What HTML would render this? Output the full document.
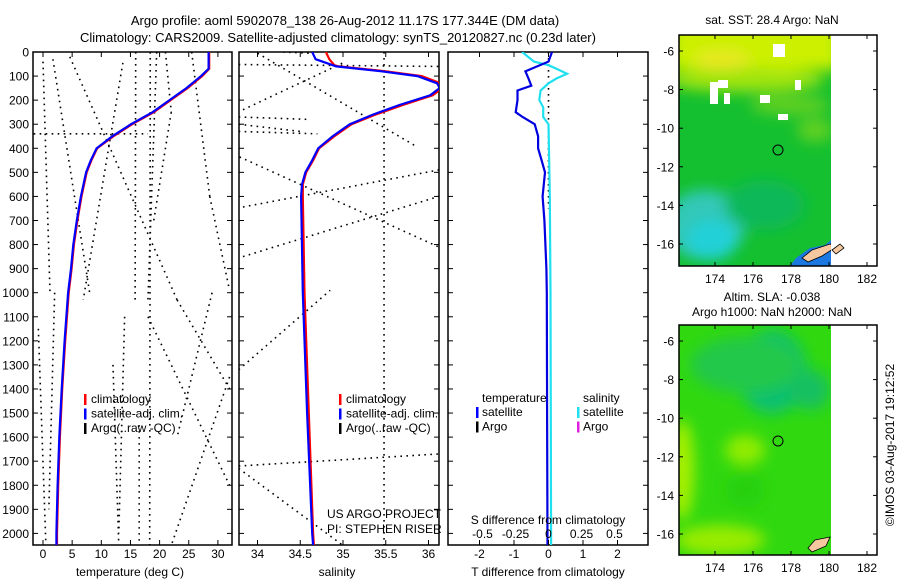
<!DOCTYPE html>
<html><head><meta charset="utf-8">
<style>
html,body{margin:0;padding:0;background:#fff;}
svg{display:block;font-family:"Liberation Sans",sans-serif;font-size:12px;}
.ax{fill:none;stroke:#000;stroke-width:1.5}
.dot{fill:none;stroke:#000;stroke-width:1.6;stroke-dasharray:1.6 4.4}
</style></head>
<body>
<svg id="fig" width="900" height="580" viewBox="0 0 900 580">
<defs>
<clipPath id="c1"><rect x="33" y="52" width="199" height="493"/></clipPath>
<clipPath id="c2"><rect x="239" y="52" width="200" height="493"/></clipPath>
<clipPath id="c3"><rect x="448" y="52" width="200" height="493"/></clipPath>
<clipPath id="m1"><rect x="679" y="35" width="152" height="231"/></clipPath>
<clipPath id="m2"><rect x="679" y="325" width="152" height="230"/></clipPath>
<filter id="bl" x="-50%" y="-50%" width="200%" height="200%"><feGaussianBlur stdDeviation="7"/></filter>
</defs>
<text x="345" y="25" text-anchor="middle" font-size="13">Argo profile: aoml 5902078_138 26-Aug-2012 11.17S 177.344E (DM data)</text>
<text x="338" y="42" text-anchor="middle" font-size="13">Climatology: CARS2009. Satellite-adjusted climatology: synTS_20120827.nc (0.23d later)</text>

<g id="p1"></g>
<g id="p2"></g>
<g id="p3"></g>

<!-- map 1 -->
<g>
<text x="772" y="24" text-anchor="middle">sat. SST: 28.4 Argo: NaN</text>
<g clip-path="url(#m1)">
<rect x="679" y="35" width="152" height="231" fill="#14c030"/>
<g filter="url(#bl)">
<rect x="670" y="20" width="170" height="50" fill="#ccf000"/>
<ellipse cx="745" cy="80" rx="80" ry="12" fill="#a0e410"/>
<ellipse cx="722" cy="60" rx="28" ry="10" fill="#e8e820"/>
<ellipse cx="790" cy="105" rx="40" ry="10" fill="#60d020"/>
<ellipse cx="705" cy="225" rx="40" ry="35" fill="#30c8b8"/>
<ellipse cx="712" cy="240" rx="25" ry="20" fill="#20d0d8"/>
<ellipse cx="765" cy="205" rx="40" ry="25" fill="#10b858"/>
<ellipse cx="815" cy="130" rx="18" ry="12" fill="#60d020"/>
</g>
<rect x="773" y="44" width="12" height="13" fill="#fff"/>
<rect x="710" y="82" width="8" height="22" fill="#fff"/>
<rect x="718" y="80" width="10" height="8" fill="#fff"/>
<rect x="724" y="93" width="6" height="11" fill="#fff"/>
<rect x="760" y="95" width="10" height="8" fill="#fff"/>
<rect x="778" y="114" width="10" height="6" fill="#fff"/>
<rect x="795" y="80" width="6" height="10" fill="#fff"/>
<path d="M796 258 L810 248 L825 245 L831 240 L831 266 L790 266Z" fill="#1a78e0"/>
<path d="M802 258 L812 250 L830 244 L836 247 L822 256 L808 262Z" fill="#f5c8a0" stroke="#000" stroke-width="0.8"/>
</g>
<rect x="831" y="35" width="46" height="231" fill="#fff"/>
<path d="M832 250 L840 244 L844 248 L836 254Z" fill="#f5c8a0" stroke="#000" stroke-width="0.8"/>
<circle cx="778" cy="150" r="5" fill="none" stroke="#000" stroke-width="1"/>
<rect x="679" y="35" width="198" height="231" class="ax" stroke-width="1"/>
<g id="mt1"></g>
</g>

<!-- map 2 -->
<g>
<text x="772" y="301" text-anchor="middle">Altim. SLA: -0.038</text>
<text x="772" y="316" text-anchor="middle">Argo h1000: NaN h2000: NaN</text>
<g clip-path="url(#m2)">
<rect x="679" y="325" width="152" height="230" fill="#30d810"/>
<g filter="url(#bl)">
<ellipse cx="772" cy="372" rx="35" ry="42" fill="#10c070"/>
<ellipse cx="745" cy="365" rx="55" ry="28" fill="#20c848"/>
<ellipse cx="810" cy="390" rx="20" ry="20" fill="#18c060"/>
<ellipse cx="682" cy="470" rx="12" ry="50" fill="#a8f000"/>
<ellipse cx="745" cy="450" rx="20" ry="15" fill="#90ec00"/>
<ellipse cx="720" cy="540" rx="45" ry="15" fill="#98ec00"/>
<ellipse cx="745" cy="490" rx="20" ry="18" fill="#28d010"/>
</g>
<path d="M808 548 L815 540 L830 537 L826 546 L812 552Z" fill="#f5c8a0" stroke="#000" stroke-width="0.8"/>
</g>
<rect x="831" y="325" width="46" height="230" fill="#fff"/>
<circle cx="778" cy="441" r="5" fill="none" stroke="#000" stroke-width="1"/>
<rect x="679" y="325" width="198" height="230" class="ax" stroke-width="1"/>
<g id="mt2"></g>
</g>
<text transform="translate(894,445) rotate(-90)" text-anchor="middle">©IMOS 03-Aug-2017 19:12:52</text>
</svg>
<script>
const NS="http://www.w3.org/2000/svg";
// ---- data ----
const depthTicks=[0,100,200,300,400,500,600,700,800,900,1000,1100,1200,1300,1400,1500,1600,1700,1800,1900,2000];
const tempTicks=[0,5,10,15,20,25,30];
const salTicks=[34,34.5,35,35.5,36];
const salTickLabels=["34","34.5","35","35.5","36"];
const tdiffTicks=[-2,-1,0,1,2];
const sdiffTicks=[-0.5,-0.25,0,0.25,0.5];
const sdiffTickLabels=["-0.5","-0.25","0","0.25","0.5"];
const profDepth=[0,70,100,150,200,250,300,350,400,450,500,600,700,800,900,1000,1200,1400,1600,1800,2000,2050];
const tempClim=[28.5,28.5,27.3,24.8,21.9,19.0,15.3,12.1,9.3,8.3,7.5,6.6,5.9,5.3,4.9,4.4,3.8,3.3,2.9,2.6,2.4,2.4];
const tempSat=[28.4,28.4,27.1,24.6,21.7,18.8,15.1,11.9,9.2,8.2,7.4,6.5,5.8,5.2,4.8,4.3,3.7,3.2,2.8,2.5,2.3,2.3];
const salDepth=[0,30,55,60,80,100,130,150,180,220,260,300,350,400,450,500,550,600,1000,1500,2000,2050];
const salClim=[34.80,34.84,34.90,34.95,35.50,35.92,36.14,36.16,36.05,35.70,35.38,35.10,34.90,34.72,34.65,34.57,34.53,34.53,34.55,34.60,34.65,34.66];
const salSat=[34.64,34.68,34.88,34.92,35.45,35.87,36.10,36.13,36.02,35.66,35.35,35.08,34.88,34.71,34.64,34.56,34.52,34.51,34.53,34.58,34.64,34.65];
const tdDepth=[0,40,60,80,110,140,160,200,250,270,300,350,400,450,500,600,700,900,1000,1500,2050];
const tdSat=[0.1,0,-0.33,-0.67,-0.58,-0.5,-0.9,-0.9,-0.95,-0.75,-0.4,-0.3,-0.3,-0.2,-0.1,-0.17,-0.12,-0.06,-0.05,-0.04,-0.03];
const sdDepth=[0,40,55,70,90,110,130,160,200,230,270,300,600,1000,2050];
const sdSat=[-0.2,-0.11,0,0.06,0.14,0.06,0,-0.06,-0.07,-0.04,-0.04,0,0.01,0.015,0.02];
// Argo raw (bad QC) segments: [value1, depth1, value2, depth2]
const argoTemp=[[0,40,1.2,1000],[1.7,30,8,1000],[4.6,20,23,1030],[23,1030,32,1400],[13.7,45,6.9,1030],[15.9,0,15.8,1030],[18.4,0,18.3,2050],[19.5,0,18,1030],[21,0,22,250],[22,250,19,700],[25.5,0,28.6,600],[28.6,600,32,990],[-1.6,340,18,340],[-0.8,1150,0.5,2050],[18,1100,32,1800],[32,1350,22,2050],[12,1300,13,2050],[16.5,1550,16.5,2050],[14,1100,13,2000],[2,1000,1,1900],[29,1000,23,1600]];
const argoSal=[[33.78,52,36.12,60],[33.83,240,35.0,45],[34.0,5,35.87,395],[33.79,436,36.12,810],[33.83,644,36.12,490],[33.83,850,36.12,600],[33.78,270,34.6,280],[33.78,300,34.5,330],[33.78,330,34.7,340],[35.48,0,35.48,2050],[33.78,1720,36.12,1670],[33.78,1730,35.0,2050],[33.78,1320,34.85,990],[34.3,0,34.6,5]];
// ---- scales ----
const yD=d=>52+d*0.2407;
const xT=t=>43+t*5.83;
const xS=s=>257.5+(s-34)*85.5;
const xTd=v=>548.5+v*34.5;
const xSd=v=>548.5+v*132;
function el(tag,attrs,parent,txt){const e=document.createElementNS(NS,tag);for(const k in attrs)e.setAttribute(k,attrs[k]);if(txt!==undefined)e.textContent=txt;parent.appendChild(e);return e;}
function poly(xs,ds,fx,stroke,w,parent,name){
  const pts=xs.map((v,i)=>fx(v).toFixed(1)+","+yD(ds[i]).toFixed(1)).join(" ");
  const p=el("polyline",{points:pts,fill:"none",stroke:stroke,"stroke-width":w},parent);
  
  
}
function frame(g,x0,w,clip){
  const r=el("rect",{x:x0,y:52,width:w,height:493,class:"ax"},g);
  
  
  const c=el("g",{"clip-path":"url(#"+clip+")"},g);return c;
}
function xticks(g,vals,labels,fx,x0,w,y){
  vals.forEach((v,i)=>{const x=fx(v);
    el("line",{x1:x,x2:x,y1:545,y2:540,stroke:"#000"},g);
    el("line",{x1:x,x2:x,y1:52,y2:57,stroke:"#000"},g);
    const t=el("text",{x:x,y:y,"text-anchor":"middle"},g,labels[i]);
    
    
  });
}
function legend(g,x,items){
  items.forEach((it,i)=>{const y=403+i*14.5;
    el("rect",{x:x,y:y-9,width:2.5,height:11,fill:it[1]},g);
    const t=el("text",{x:x+7,y:y},g,it[0]);
    
    
  });
}
// panel 1
const g1=document.getElementById("p1");
const c1=frame(g1,33,199,"c1");
argoTemp.forEach(s=>{const l=el("line",{x1:xT(s[0]),y1:yD(s[1]),x2:xT(s[2]),y2:yD(s[3]),class:"dot"},c1);
  
  });
poly(tempClim,profDepth,xT,"#f00",2.2,c1,"temp-climatology-line");
poly(tempSat,profDepth,xT,"#00f",2.2,c1,"temp-satellite-line");
depthTicks.forEach(d=>{const y=yD(d);
  el("line",{x1:33,x2:38,y1:y,y2:y,stroke:"#000"},g1);
  el("line",{x1:232,x2:227,y1:y,y2:y,stroke:"#000"},g1);
  const t=el("text",{x:29,y:y+4.5,"text-anchor":"end"},g1,String(d));
  
  });
xticks(g1,tempTicks,tempTicks.map(String),xT,33,199,558);
let t=el("text",{x:130,y:576,"text-anchor":"middle"},g1,"temperature (deg C)");


legend(g1,84,[["climatology","#f00"],["satellite-adj. clim.","#00f"],["Argo(..raw -QC)","#000"]]);
// panel 2
const g2=document.getElementById("p2");
const c2=frame(g2,239,200,"c2");
argoSal.forEach(s=>{const l=el("line",{x1:xS(s[0]),y1:yD(s[1]),x2:xS(s[2]),y2:yD(s[3]),class:"dot"},c2);
  
  });
poly(salClim,salDepth,xS,"#f00",2.2,c2,"sal-climatology-line");
poly(salSat,salDepth,xS,"#00f",2.2,c2,"sal-satellite-line");
depthTicks.forEach(d=>{const y=yD(d);
  el("line",{x1:239,x2:244,y1:y,y2:y,stroke:"#000"},g2);
  el("line",{x1:439,x2:434,y1:y,y2:y,stroke:"#000"},g2);});
xticks(g2,salTicks,salTickLabels,xS,239,200,558);
t=el("text",{x:337,y:576,"text-anchor":"middle"},g2,"salinity");


legend(g2,339,[["climatology","#f00"],["satellite-adj. clim.","#00f"],["Argo(..raw -QC)","#000"]]);
t=el("text",{x:327,y:518},g2,"US ARGO PROJECT");


t=el("text",{x:327,y:533},g2,"PI: STEPHEN RISER");


// panel 3
const g3=document.getElementById("p3");
const c3=frame(g3,448,200,"c3");
el("line",{x1:xTd(0),x2:xTd(0),y1:52,y2:yD(650),class:"dot","stroke-width":1.2,"stroke-dasharray":"1 3"},c3);
poly(sdSat,sdDepth,xSd,"#20e0f0",2.2,c3,"sal-diff-satellite-line");
poly(tdSat,tdDepth,xTd,"#0000e0",2.2,c3,"temp-diff-satellite-line");
depthTicks.forEach(d=>{const y=yD(d);
  el("line",{x1:448,x2:453,y1:y,y2:y,stroke:"#000"},g3);
  el("line",{x1:648,x2:643,y1:y,y2:y,stroke:"#000"},g3);});
xticks(g3,tdiffTicks,tdiffTicks.map(String),xTd,448,200,558);
sdiffTicks.forEach((v,i)=>{const tt=el("text",{x:xSd(v),y:538,"text-anchor":"middle"},g3,sdiffTickLabels[i]);
  
  });
t=el("text",{x:548,y:524,"text-anchor":"middle"},g3,"S difference from climatology");


t=el("text",{x:548,y:576,"text-anchor":"middle"},g3,"T difference from climatology");


t=el("text",{x:482,y:402},g3,"temperature");


t=el("text",{x:583,y:402},g3,"salinity");


[["satellite","#00f",476],["Argo","#000",476],["satellite","#20e0f0",577],["Argo","#e020e0",577]].forEach((it,i)=>{
  const y=416+(i%2)*14.5;
  el("rect",{x:it[2],y:y-9,width:2.5,height:11,fill:it[1]},g3);
  const tt=el("text",{x:it[2]+6,y:y},g3,it[0]);
  
  
});
// map ticks
const lonTicks=[174,176,178,180,182];
const latTicks=[-6,-8,-10,-12,-14,-16];
function mapTicks(id,top,h){
  const g=document.getElementById(id);
  const xL=l=>715+(l-174)*19;
  const yL=a=>top+16+(-6-a)*19.3;
  lonTicks.forEach(l=>{const x=xL(l);
    el("line",{x1:x,x2:x,y1:top,y2:top+4,stroke:"#000"},g);
    el("line",{x1:x,x2:x,y1:top+h,y2:top+h-4,stroke:"#000"},g);
    const tt=el("text",{x:x,y:top+h+17,"text-anchor":"middle"},g,String(l));
    
    });
  latTicks.forEach(a=>{const y=yL(a);
    el("line",{x1:679,x2:683,y1:y,y2:y,stroke:"#000"},g);
    el("line",{x1:877,x2:873,y1:y,y2:y,stroke:"#000"},g);
    const tt=el("text",{x:674,y:y+4.5,"text-anchor":"end"},g,String(a));
    
    });
}
mapTicks("mt1",35,231);
mapTicks("mt2",325,230);
</script>
</body></html>
